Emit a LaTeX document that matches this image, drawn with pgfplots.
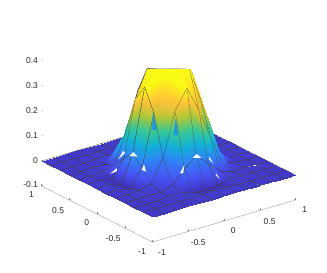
\documentclass[border=0pt]{standalone}
\usepackage{fontspec}
\setmainfont{Liberation Sans}
\usepackage{pgfplots}
\pgfplotsset{compat=1.18}
\definecolor{lbl}{rgb}{0.15,0.15,0.15}
\definecolor{wedge}{rgb}{0.11,0.60,0.90}
\begin{document}
\begin{tikzpicture}
\path[use as bounding box] (0,0) rectangle (327pt,273pt);
\begin{axis}[
  at={(168.5pt,105pt)}, anchor=origin,
  x={(71.5pt,21pt)}, y={(-55.5pt,28pt)}, z={(0pt,250pt)},
  xmin=-1,xmax=1,ymin=-1,ymax=1,zmin=-0.1,zmax=0.4,
  xtick={-1,-0.5,0,0.5,1}, ytick={-1,-0.5,0,0.5,1}, ztick={-0.1,0,0.1,0.2,0.3,0.4},
  xticklabels={-1,-0.5,0,0.5,1}, yticklabels={-1,-0.5,0,0.5,1}, zticklabels={-0.1,0,0.1,0.2,0.3,0.4},
  axis lines=left, axis line style={-,black!45,line width=0.3pt},
  z axis line style={draw=none},
  tick style={black!45,line width=0.3pt}, tick align=inside, major tick length=2pt,
  tick label style={font=\fontsize{8.5}{10}\selectfont, text=lbl},
  xticklabel style={xshift=5pt,yshift=-3pt},
  yticklabel style={xshift=-5pt,yshift=-2pt},
  /pgf/number format/assume math mode=true,
  colormap={parula}{rgb(0)=(.2422,.1504,.6603) rgb(1)=(.2810,.3228,.9579) rgb(2)=(.1786,.5289,.9682) rgb(3)=(.0689,.6948,.8394) rgb(4)=(.2161,.7843,.5923) rgb(5)=(.6720,.7793,.2227) rgb(6)=(.9970,.7659,.2199) rgb(7)=(.9769,.9839,.0805)},
  point meta min=0, point meta max=1,
  clip=false,
]
\addplot3[surf, shader=faceted interp, faceted color=black!75, line width=0.2pt, mesh/rows=13, mesh/cols=13, point meta=\thisrow{c}] table[row sep=\\] {
x y z c\\
-1 -1 0 .065\\ -.8333 -1 0 .065\\ -.6667 -1 0 .065\\ -.5 -1 0 .065\\ -.3333 -1 0 .065\\ -.1667 -1 0 .065\\ 0 -1 0 .065\\ .1667 -1 0 .065\\ .3333 -1 0 .065\\ .5 -1 0 .065\\ .6667 -1 0 .065\\ .8333 -1 0 .065\\ 1 -1 0 .065\\
-1 -.8333 0 .065\\ -.8333 -.8333 0 .065\\ -.6667 -.8333 0 .065\\ -.5 -.8333 0 .065\\ -.3333 -.8333 0 .065\\ -.1667 -.8333 .003 .073\\ 0 -.8333 .005 .078\\ .1667 -.8333 .003 .073\\ .3333 -.8333 0 .065\\ .5 -.8333 0 .065\\ .6667 -.8333 0 .065\\ .8333 -.8333 0 .065\\ 1 -.8333 0 .065\\
-1 -.6667 0 .065\\ -.8333 -.6667 0 .065\\ -.6667 -.6667 0 .065\\ -.5 -.6667 .003 .073\\ -.3333 -.6667 .005 .078\\ -.1667 -.6667 -.01 .04\\ 0 -.6667 -.015 .026\\ .1667 -.6667 -.01 .04\\ .3333 -.6667 .005 .078\\ .5 -.6667 .003 .073\\ .6667 -.6667 0 .065\\ .8333 -.6667 0 .065\\ 1 -.6667 0 .065\\
-1 -.5 0 .065\\ -.8333 -.5 0 .065\\ -.6667 -.5 .003 .073\\ -.5 -.5 0 .065\\ -.3333 -.5 .015 .104\\ -.1667 -.5 .066 .22\\ 0 -.5 .104 .3\\ .1667 -.5 .06 .22\\ .3333 -.5 .015 .104\\ .5 -.5 0 .065\\ .6667 -.5 .003 .073\\ .8333 -.5 0 .065\\ 1 -.5 0 .065\\
-1 -.3333 0 .065\\ -.8333 -.3333 0 .065\\ -.6667 -.3333 .005 .078\\ -.5 -.3333 .015 .104\\ -.3333 -.3333 .105 .27\\ -.1667 -.3333 .28 .8\\ 0 -.3333 .357 1.05\\ .1667 -.3333 .255 .85\\ .3333 -.3333 .13 .48\\ .5 -.3333 .015 .104\\ .6667 -.3333 .005 .078\\ .8333 -.3333 0 .065\\ 1 -.3333 0 .065\\
-1 -.1667 0 .065\\ -.8333 -.1667 .003 .073\\ -.6667 -.1667 -.01 .04\\ -.5 -.1667 .06 .22\\ -.3333 -.1667 .267 .77\\ -.1667 -.1667 .40 1.15\\ 0 -.1667 .40 1.15\\ .1667 -.1667 .40 1.1\\ .3333 -.1667 .255 .9\\ .5 -.1667 .06 .22\\ .6667 -.1667 -.01 .04\\ .8333 -.1667 .003 .073\\ 1 -.1667 0 .065\\
-1 0 0 .065\\ -.8333 0 .005 .078\\ -.6667 0 -.015 .026\\ -.5 0 .10 .32\\ -.3333 0 .352 1.05\\ -.1667 0 .40 1.15\\ 0 0 .396 1.2\\ .1667 0 .382 1.2\\ .3333 0 .352 1.2\\ .5 0 .10 .32\\ .6667 0 -.015 .026\\ .8333 0 .005 .078\\ 1 0 0 .065\\
-1 .1667 0 .065\\ -.8333 .1667 .003 .073\\ -.6667 .1667 -.01 .04\\ -.5 .1667 .06 .22\\ -.3333 .1667 .285 .92\\ -.1667 .1667 .395 1.1\\ 0 .1667 .377 1.2\\ .1667 .1667 .363 1.2\\ .3333 .1667 .27 1.2\\ .5 .1667 .06 .22\\ .6667 .1667 -.01 .04\\ .8333 .1667 .003 .073\\ 1 .1667 0 .065\\
-1 .3333 0 .065\\ -.8333 .3333 0 .065\\ -.6667 .3333 .005 .078\\ -.5 .3333 .015 .104\\ -.3333 .3333 .14 .58\\ -.1667 .3333 .29 1\\ 0 .3333 .355 1.2\\ .1667 .3333 .27 1.2\\ .3333 .3333 .105 .32\\ .5 .3333 .015 .104\\ .6667 .3333 .005 .078\\ .8333 .3333 0 .065\\ 1 .3333 0 .065\\
-1 .5 0 .065\\ -.8333 .5 0 .065\\ -.6667 .5 .003 .073\\ -.5 .5 0 .065\\ -.3333 .5 .015 .104\\ -.1667 .5 .06 .22\\ 0 .5 .10 .32\\ .1667 .5 .06 .22\\ .3333 .5 .015 .104\\ .5 .5 0 .065\\ .6667 .5 .003 .073\\ .8333 .5 0 .065\\ 1 .5 0 .065\\
-1 .6667 0 .065\\ -.8333 .6667 0 .065\\ -.6667 .6667 0 .065\\ -.5 .6667 .003 .073\\ -.3333 .6667 .005 .078\\ -.1667 .6667 -.01 .04\\ 0 .6667 -.015 .026\\ .1667 .6667 -.01 .04\\ .3333 .6667 .005 .078\\ .5 .6667 .003 .073\\ .6667 .6667 0 .065\\ .8333 .6667 0 .065\\ 1 .6667 0 .065\\
-1 .8333 0 .065\\ -.8333 .8333 0 .065\\ -.6667 .8333 0 .065\\ -.5 .8333 0 .065\\ -.3333 .8333 0 .065\\ -.1667 .8333 .003 .073\\ 0 .8333 .005 .078\\ .1667 .8333 .003 .073\\ .3333 .8333 0 .065\\ .5 .8333 0 .065\\ .6667 .8333 0 .065\\ .8333 .8333 0 .065\\ 1 .8333 0 .065\\
-1 1 0 .065\\ -.8333 1 0 .065\\ -.6667 1 0 .065\\ -.5 1 0 .065\\ -.3333 1 0 .065\\ -.1667 1 0 .065\\ 0 1 0 .065\\ .1667 1 0 .065\\ .3333 1 0 .065\\ .5 1 0 .065\\ .6667 1 0 .065\\ .8333 1 0 .065\\ 1 1 0 .065\\
};
% top of the surface, without mesh lines
\addplot3[surf, shader=interp, mesh/rows=4, mesh/cols=4, point meta=\thisrow{c}] table[row sep=\\] {
x y z c\\
-.3333 -.3333 .105 .27\\ -.1667 -.3333 .28 .8\\ 0 -.3333 .357 1.05\\ .1667 -.3333 .255 .85\\
-.3333 -.1667 .267 .77\\ -.1667 -.1667 .40 1.15\\ 0 -.1667 .40 1.15\\ .1667 -.1667 .40 1.1\\
-.3333 0 .352 1.05\\ -.1667 0 .40 1.15\\ 0 0 .396 1.2\\ .1667 0 .382 1.2\\
-.3333 .1667 .285 .92\\ -.1667 .1667 .395 1.1\\ 0 .1667 .377 1.2\\ .1667 .1667 .363 1.2\\
};
% clipped folds: blue wedges
\addplot3[fill=wedge,draw=none,forget plot] coordinates {(-.213,0,.239) (-.235,0,.172) (-.165,0,.166)};
\addplot3[fill=wedge,draw=none,forget plot] coordinates {(.101,0,.19) (.067,0,.126) (.137,0,.12)};
% mesh lines that stay on the front of the top
\addplot3[black!75,line width=0.2pt,forget plot] coordinates {(-.3333,.1667,.285) (-.3333,0,.352) (-.3333,-.1667,.267) (-.3333,-.3333,.105) (-.1667,-.3333,.28) (0,-.3333,.357) (.1667,-.3333,.255)};
\addplot3[black!75,line width=0.2pt,forget plot] coordinates {(-.3333,.1667,.285) (-.1667,.1667,.395)};
\addplot3[black!75,line width=0.2pt,forget plot] coordinates {(.1667,-.3333,.255) (.1667,-.1667,.40)};
% clipped holes at the foot of the peak
\addplot3[fill=white,draw=none,forget plot] coordinates {(-.492,0,.105) (-.548,0,.094) (-.436,0,.082)};
\addplot3[fill=white,draw=none,forget plot] coordinates {(.394,0,.023) (.338,0,.012) (.459,0,.002)};
\addplot3[fill=white,draw=none,forget plot] coordinates {(-.343,0,.044) (-.375,0,.024) (-.315,0,.012)};
\addplot3[fill=white,draw=none,forget plot] coordinates {(.221,0,-.006) (.161,0,-.035) (.207,0,-.038)};
\addplot3[fill=white,draw=none,forget plot] coordinates {(-.632,0,.122) (-.702,0,.094) (-.608,0,.111)};
\addplot3[fill=white,draw=none,forget plot] coordinates {(-.724,0,.06) (-.818,0,.045) (-.72,0,.048)};
\addplot3[fill=white,draw=none,forget plot] coordinates {(.571,0,-.003) (.627,0,-.034) (.566,0,-.012)};
\addplot3[fill=white,draw=none,forget plot] coordinates {(.664,0,-.077) (.72,0,-.105) (.664,0,-.086)};
\end{axis}
\end{tikzpicture}
\end{document}
